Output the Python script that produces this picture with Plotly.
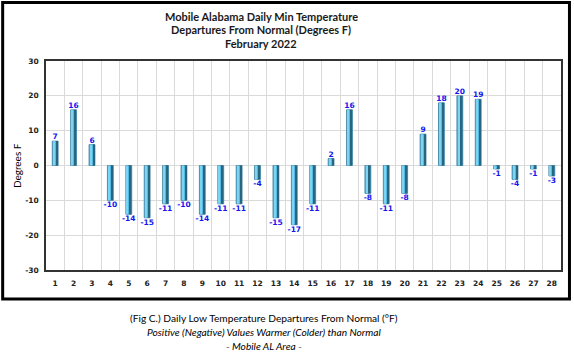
import plotly.graph_objects as go

days = list(range(1, 29))
departures = [7, 16, 6, -10, -14, -15, -11, -10, -14, -11, -11, -4, -15, -17, -11,
              2, 16, -8, -11, -8, 9, 18, 20, 19, -1, -4, -1, -3]
labels = ["<b>%d</b>" % v for v in departures]
y_ticks = [30, 20, 10, 0, -10, -20, -30]
y_ticklabels = ["<b>%d</b>" % v for v in y_ticks]

W, H = 574, 356
L, R, T, B = 46, 563, 61, 270  # plot area in pixels

fig = go.Figure()
bw = 0.32
fig.add_trace(go.Bar(
    x=days, y=departures, width=bw,
    marker=dict(color="#52BAE3", line=dict(color="#3A7D99", width=0.8)),
    text=labels, textposition="outside", constraintext="none",
    textfont=dict(family="DejaVu Sans", size=7.5, color="#1515F0"),
    cliponaxis=False, hoverinfo="skip",
))
fig.add_trace(go.Bar(
    x=days, y=departures, width=0.08, offset=0.06,
    marker=dict(color="#2A6580", line=dict(width=0)),
    hoverinfo="skip",
))
fig.add_trace(go.Bar(
    x=days, y=departures, width=0.06, offset=-0.1,
    marker=dict(color="#7FD3F2", line=dict(width=0)),
    hoverinfo="skip",
))

pw, ph = R - L, B - T
def px(x):
    return (x - L) / pw
def py(y):
    return (B - y) / ph

fig.add_shape(type="rect", xref="paper", yref="paper",
              x0=px(2.5), x1=px(571.5), y0=py(299), y1=py(2.5),
              line=dict(color="black", width=3), layer="above")

title_font = dict(family="Lato", size=11, color="#1a1a1a")
for txt, yy in [("<b>Mobile Alabama Daily Min Temperature</b>", 16),
                ("<b>Departures From Normal (Degrees F)</b>", 29.5),
                ("<b>February 2022</b>", 43)]:
    fig.add_annotation(text=txt, xref="paper", yref="paper", x=px(262), y=py(yy),
                       showarrow=False, font=title_font, xanchor="center", yanchor="middle")

cap_font = dict(family="Lato", size=10.2, color="black")
for txt, yy in [("(Fig C.) Daily Low Temperature Departures From Normal (°F)", 318),
                ("<i>Positive (Negative) Values Warmer (Colder) than Normal</i>", 332),
                ("<i>- Mobile AL Area -</i>", 346)]:
    fig.add_annotation(text=txt, xref="paper", yref="paper", x=px(265), y=py(yy),
                       showarrow=False, font=cap_font, xanchor="center", yanchor="middle")

fig.add_annotation(text="Degrees F", xref="paper", yref="paper", x=px(17), y=py(166),
                   showarrow=False, textangle=-90,
                   font=dict(family="Lato", size=10, color="black"),
                   xanchor="center", yanchor="middle")

fig.update_layout(
    width=W, height=H,
    margin=dict(l=L, r=W - R, t=T, b=H - B, pad=0),
    paper_bgcolor="white", plot_bgcolor="white",
    barmode="overlay", showlegend=False,
    xaxis=dict(range=[0.5, 28.5], tickvals=days, ticktext=["<b>%d</b>" % d for d in days],
               showgrid=False, zeroline=False,
               showline=True, linecolor="#333333", linewidth=1.5, mirror=True,
               ticks="outside", ticklen=5, tickcolor="white",
               tickfont=dict(family="DejaVu Sans", size=7.5, color="#222222"),
               minor=dict(tick0=0.5, dtick=1, showgrid=True, gridcolor="#DADADA", gridwidth=1)),
    yaxis=dict(range=[-30, 30], tickvals=y_ticks, ticktext=y_ticklabels,
               showgrid=True, gridcolor="#DADADA", gridwidth=1.2,
               zeroline=False,
               showline=True, linecolor="#333333", linewidth=1.5, mirror=True,
               ticks="outside", ticklen=4, tickcolor="white",
               tickfont=dict(family="DejaVu Sans", size=7.5, color="#222222")),
)

fig.write_html("out.html", config={"displayModeBar": False},
               post_script="document.body.style.margin='0px';document.body.style.padding='0px';")
